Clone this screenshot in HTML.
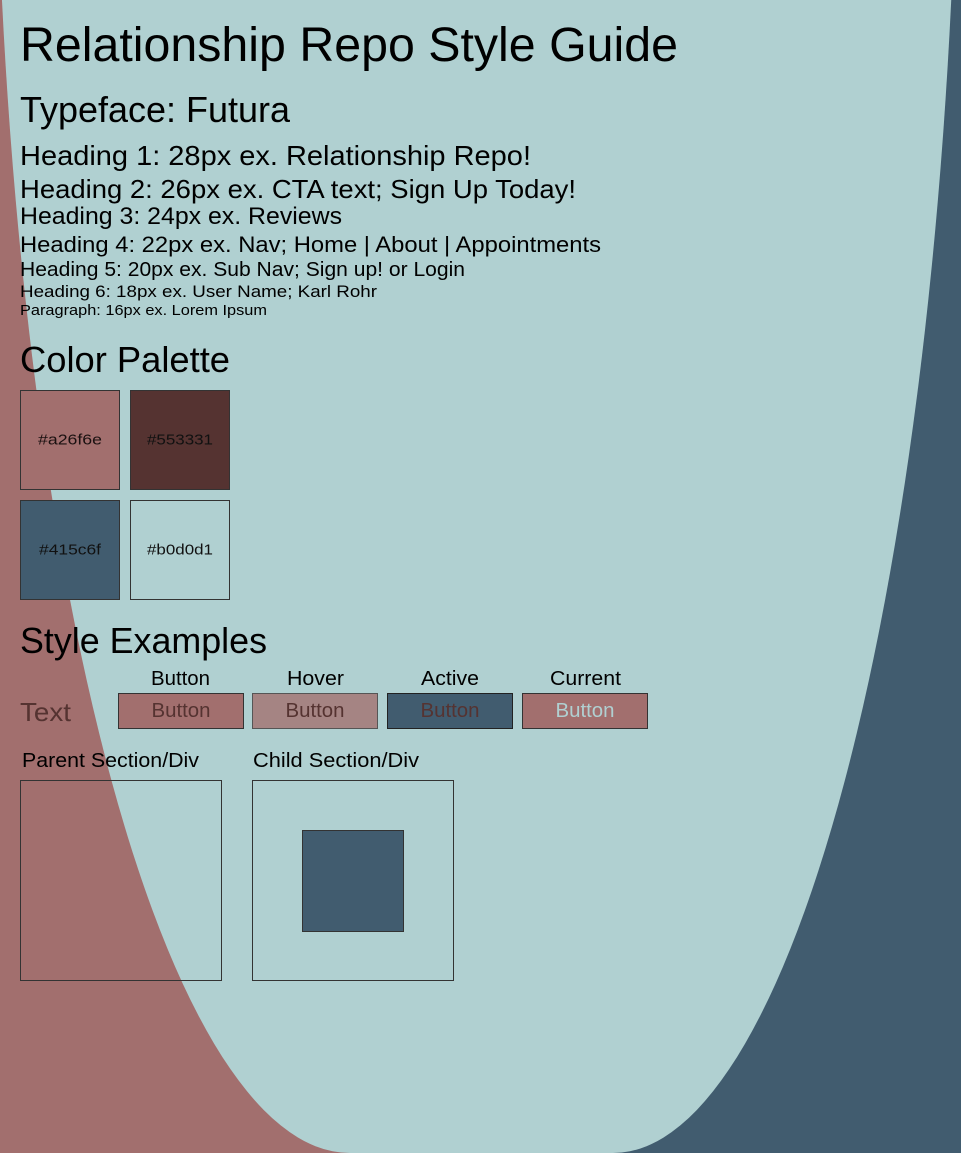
<!DOCTYPE html>
<html><head><meta charset="utf-8">
<style>
html,body{margin:0;padding:0;width:961px;height:1153px;overflow:hidden;font-family:"Liberation Sans",sans-serif;}
#bg{position:absolute;left:0;top:0;}
.t{position:absolute;white-space:nowrap;line-height:1;color:#000;transform-origin:0 0;}
.sw{position:absolute;width:100px;height:100px;border:1px solid #333;box-sizing:border-box;}
.sw span,.btn span{position:absolute;left:50%;top:50%;white-space:nowrap;line-height:1;}
.btn{position:absolute;height:36px;border:1.5px solid #333;box-sizing:border-box;}
.box{position:absolute;border:1.5px solid #333;box-sizing:border-box;}
</style></head><body>
<svg id="bg" width="961" height="1153">
<rect x="0" y="0" width="480" height="1153" fill="#a26f6e"/>
<rect x="480" y="0" width="481" height="1153" fill="#415c6f"/>
<path d="M-5,-283 A355,1436 0 0 0 350,1153 L613,1153 A345,1436 0 0 0 958,-283 Z" fill="#b0d0d1"/>
</svg>

<div class="t" data-w="658" style="left:20px;top:22px;font-size:48px">Relationship Repo Style Guide</div>
<div class="t" data-w="270" style="left:20px;top:92px;font-size:36px">Typeface: Futura</div>
<div class="t" data-w="511" style="left:20px;top:142px;font-size:28px">Heading 1: 28px ex. Relationship Repo!</div>
<div class="t" data-w="556" style="left:20px;top:176px;font-size:26px">Heading 2: 26px ex. CTA text; Sign Up Today!</div>
<div class="t" data-w="322" style="left:20px;top:205px;font-size:24px">Heading 3: 24px ex. Reviews</div>
<div class="t" data-w="581" style="left:20px;top:234px;font-size:22px">Heading 4: 22px ex. Nav; Home | About | Appointments</div>
<div class="t" data-w="445" style="left:20px;top:260px;font-size:20px">Heading 5: 20px ex. Sub Nav; Sign up! or Login</div>
<div class="t" data-w="357" style="left:20px;top:283px;font-size:17px">Heading 6: 18px ex. User Name; Karl Rohr</div>
<div class="t" data-w="247" style="left:20px;top:303px;font-size:15px">Paragraph: 16px ex. Lorem Ipsum</div>

<div class="t" data-w="210" style="left:20px;top:342px;font-size:36px">Color Palette</div>
<div class="sw" style="left:20px;top:390px;background:#a26f6e"><span class="c" data-w="64" style="font-size:15px;color:#1a1010">#a26f6e</span></div>
<div class="sw" style="left:130px;top:390px;background:#553331"><span class="c" data-w="66" style="font-size:15px;color:#111">#553331</span></div>
<div class="sw" style="left:20px;top:500px;background:#415c6f"><span class="c" data-w="62" style="font-size:15px;color:#111">#415c6f</span></div>
<div class="sw" style="left:130px;top:500px;background:#b0d0d1"><span class="c" data-w="66" style="font-size:15px;color:#111">#b0d0d1</span></div>

<div class="t" data-w="247" style="left:20px;top:623px;font-size:36px">Style Examples</div>
<div class="t" data-w="59" style="left:151px;top:669px;font-size:20px">Button</div>
<div class="t" data-w="57" style="left:287px;top:669px;font-size:20px">Hover</div>
<div class="t" data-w="58" style="left:421px;top:669px;font-size:20px">Active</div>
<div class="t" data-w="71" style="left:550px;top:669px;font-size:20px">Current</div>
<div class="t" data-w="51" style="left:20px;top:699px;font-size:26px;color:#553331">Text</div>
<div class="btn" style="left:118px;top:693px;width:126px;background:#a26f6e"><span class="c" data-w="59" style="font-size:20px;color:#553331">Button</span></div>
<div class="btn" style="left:252px;top:693px;width:126px;background:#a58483;border-color:#555"><span class="c" data-w="59" style="font-size:20px;color:#553331">Button</span></div>
<div class="btn" style="left:387px;top:693px;width:126px;background:#415c6f;border-color:#222"><span class="c" data-w="59" style="font-size:20px;color:#553331">Button</span></div>
<div class="btn" style="left:522px;top:693px;width:126px;background:#a26f6e"><span class="c" data-w="59" style="font-size:20px;color:#b0d0d1">Button</span></div>

<div class="t" data-w="177" style="left:22px;top:751px;font-size:20px">Parent Section/Div</div>
<div class="t" data-w="166" style="left:253px;top:751px;font-size:20px">Child Section/Div</div>
<div class="box" style="left:20px;top:780px;width:202px;height:201px"></div>
<div class="box" style="left:252px;top:780px;width:202px;height:201px"></div>
<div class="box" style="left:302px;top:830px;width:102px;height:102px;background:#415c6f"></div>

<script>
document.querySelectorAll('[data-w]').forEach(function(el){
  el.style.display='inline-block';
  var w=el.getBoundingClientRect().width;
  var tw=parseFloat(el.getAttribute('data-w'));
  var s=tw/w;
  if(el.classList.contains('c')){
    el.style.transform='translate(-50%,-50%) scaleX('+s+')';
    el.style.transformOrigin='50% 50%';
    el.style.left='50%';
  } else {
    el.style.transform='scaleX('+s+')';
  }
});
</script>
</body></html>
